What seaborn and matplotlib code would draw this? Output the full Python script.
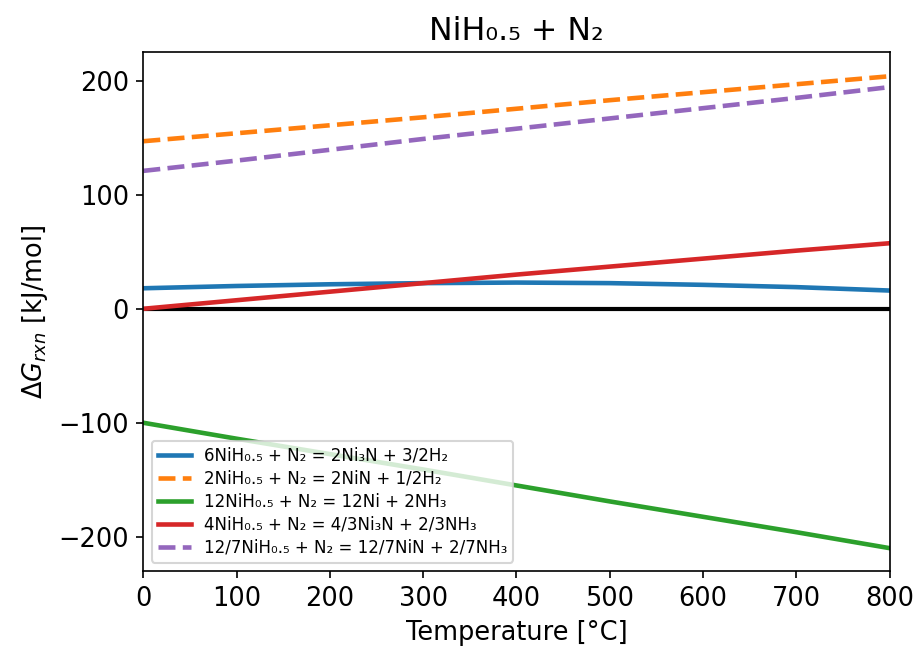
import pandas as pd
import matplotlib.pyplot as plt
import seaborn as sns

# temperature grid [°C]
temps = [0, 100, 200, 300, 400, 500, 600, 700, 800]

# Gibbs energies [kJ/mol]
g_ni3n_h2 = [18, 20, 21.5, 22.5, 23, 22.5, 21, 19, 16]
g_nin_h2 = [147, 154, 161, 168, 175.5, 183, 190, 197, 204]
g_ni_nh3 = [-100, -114, -127.5, -141, -155, -169, -182.5, -196, -210]
g_ni3n_nh3 = [0, 7.5, 15, 22.5, 30, 37, 44, 51, 57.5]
g_nin_nh3 = [121, 130, 139.5, 149, 158, 167, 176, 185, 194.5]

labels = [
    "6NiH\u2080.\u2085 + N\u2082 = 2Ni\u2083N + 3/2H\u2082",
    "2NiH\u2080.\u2085 + N\u2082 = 2NiN + 1/2H\u2082",
    "12NiH\u2080.\u2085 + N\u2082 = 12Ni + 2NH\u2083",
    "4NiH\u2080.\u2085 + N\u2082 = 4/3Ni\u2083N + 2/3NH\u2083",
    "12/7NiH\u2080.\u2085 + N\u2082 = 12/7NiN + 2/7NH\u2083",
]
series = [g_ni3n_h2, g_nin_h2, g_ni_nh3, g_ni3n_nh3, g_nin_nh3]
dashed = [False, True, False, False, True]

#Builds long-form table for seaborn
rows = []
for lab, vals in zip(labels, series):
    for t, g in zip(temps, vals):
        rows.append({'T': t, 'G': g, 'rxn': lab})
df = pd.DataFrame(rows)

plt.rcParams['font.size'] = 12.3
fig, ax = plt.subplots(figsize=(919/150, 654/150), dpi=150)
fig.subplots_adjust(left=0.156, right=0.968, top=0.92, bottom=0.127)

ax.axhline(0, color='black', lw=2)
palette = dict(zip(labels, sns.color_palette('tab10', 5)))
dashes = {lab: ((3.7, 1.6) if d else '') for lab, d in zip(labels, dashed)}
sns.lineplot(data=df, x='T', y='G', hue='rxn', style='rxn', hue_order=labels,
             style_order=labels, palette=palette, dashes=dashes, lw=2.2, ax=ax)

ax.set_xlim(0, 800)
ax.set_ylim(-230, 225)
ax.set_xlabel("Temperature [°C]")
ax.set_ylabel(r"$\Delta G_{rxn}$ [kJ/mol]")
ax.set_title("NiH\u2080.\u2085 + N\u2082", fontsize=15.2)
ax.legend(loc='lower left', fontsize=8, title=None, labelspacing=0.3,
          borderpad=0.35)

fig.savefig('out.png', dpi=150)
